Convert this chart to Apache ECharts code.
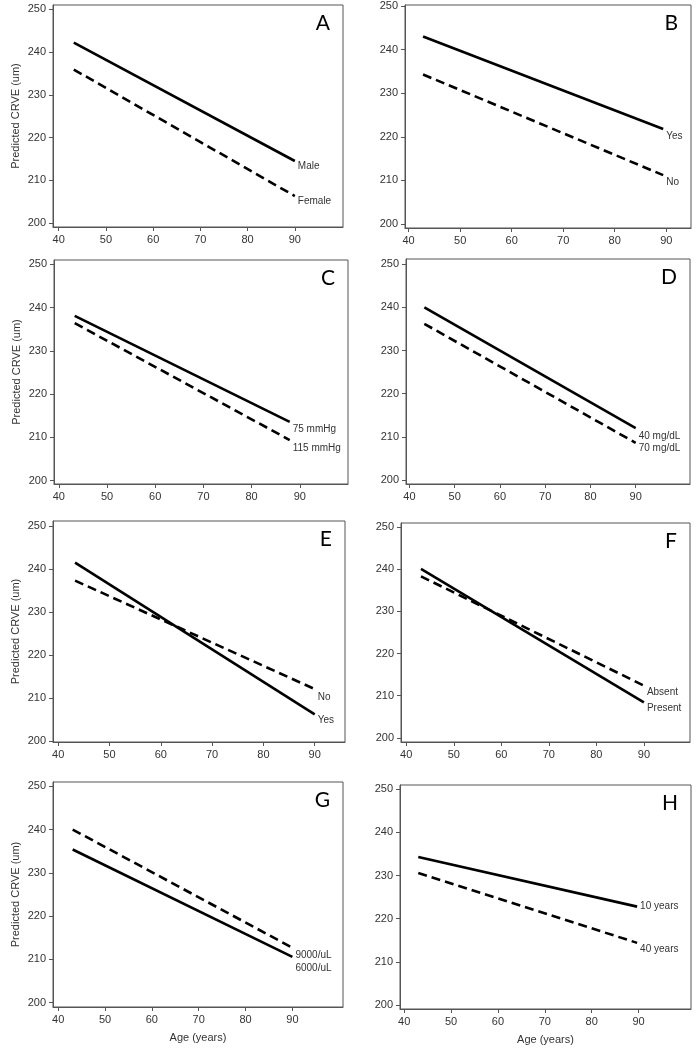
<!DOCTYPE html>
<html>
<head>
<meta charset="utf-8">
<script src="https://cdn.jsdelivr.net/npm/echarts@6/dist/echarts.min.js"></script>
<style>
html,body{margin:0;padding:0;background:#fff;}
#chart{width:698px;height:1050px;}
</style>
</head>
<body>
<div id="chart"></div>
<script>
// ---- data ----
const panelLetters = ['A', 'B', 'C', 'D', 'E', 'F', 'G', 'H'];
const xTickValues = [40, 50, 60, 70, 80, 90];
const yTickValues = [200, 210, 220, 230, 240, 250];
const yAxisTitle = 'Predicted CRVE (um)';
const xAxisTitle = 'Age (years)';

// Panel A: sex
const agesA = [43.2, 90];
const maleA = [242.2, 214.5];
const femaleA = [235.9, 206.3];
// Panel B
const agesB = [42.8, 89.4];
const yesB = [243.0, 221.8];
const noB = [234.3, 211.2];
// Panel C: blood pressure
const agesC = [43.3, 87.9];
const mmHg75C = [238.1, 213.6];
const mmHg115C = [236.4, 209.4];
// Panel D: HDL
const agesD = [43.3, 90];
const mgdl40D = [240.0, 212.0];
const mgdl70D = [236.2, 208.6];
// Panel E
const agesE = [43.3, 90];
const yesE = [241.5, 206.2];
const noE = [237.3, 212.1];
// Panel F
const agesF = [43.1, 90];
const presentF = [240.1, 208.4];
const absentF = [238.3, 212.4];
// Panel G: white cell count
const agesG = [43.1, 90];
const wbc6000G = [235.4, 210.6];
const wbc9000G = [240.0, 212.7];
// Panel H
const agesH = [43.0, 89.7];
const yrs10H = [234.3, 222.8];
const yrs40H = [230.6, 214.4];

const panelSeries = [
  [{name: 'Male', ages: agesA, vals: maleA, dash: false}, {name: 'Female', ages: agesA, vals: femaleA, dash: true}],
  [{name: 'Yes', ages: agesB, vals: yesB, dash: false}, {name: 'No', ages: agesB, vals: noB, dash: true}],
  [{name: '75 mmHg', ages: agesC, vals: mmHg75C, dash: false}, {name: '115 mmHg', ages: agesC, vals: mmHg115C, dash: true}],
  [{name: '40 mg/dL', ages: agesD, vals: mgdl40D, dash: false}, {name: '70 mg/dL', ages: agesD, vals: mgdl70D, dash: true}],
  [{name: 'Yes', ages: agesE, vals: yesE, dash: false}, {name: 'No', ages: agesE, vals: noE, dash: true}],
  [{name: 'Present', ages: agesF, vals: presentF, dash: false}, {name: 'Absent', ages: agesF, vals: absentF, dash: true}],
  [{name: '6000/uL', ages: agesG, vals: wbc6000G, dash: false}, {name: '9000/uL', ages: agesG, vals: wbc9000G, dash: true}],
  [{name: '10 years', ages: agesH, vals: yrs10H, dash: false}, {name: '40 years', ages: agesH, vals: yrs40H, dash: true}]
];

// ---- layout (pixel boxes and axis extents) ----
const boxes = [
  {l: 53, t: 5, r: 343, b: 227, xmin: 38.8, xmax: 100.2, ymin: 199.06, ymax: 251.0},
  {l: 405, t: 5, r: 691, b: 228, xmin: 39.3, xmax: 94.8, ymin: 199.08, ymax: 250.23},
  {l: 54, t: 260, r: 348, b: 484, xmin: 39.0, xmax: 100.0, ymin: 199.24, ymax: 250.99},
  {l: 406, t: 259, r: 690, b: 484, xmin: 39.25, xmax: 102.0, ymin: 199.07, ymax: 251.23},
  {l: 53, t: 521, r: 345, b: 742, xmin: 39.0, xmax: 95.9, ymin: 199.8, ymax: 251.16},
  {l: 401, t: 523, r: 690, b: 742, xmin: 38.9, xmax: 99.7, ymin: 199.03, ymax: 250.95},
  {l: 53, t: 782, r: 343, b: 1007, xmin: 38.9, xmax: 100.8, ymin: 199.0, ymax: 250.99},
  {l: 400, t: 785, r: 691, b: 1009, xmin: 39.1, xmax: 101.2, ymin: 199.07, ymax: 251.0}
];
// end-label vertical offsets [solid, dashed]
const labelDy = [[5, 5], [7, 7], [7, 8], [8, 5], [6, 8], [6, 7], [11, 8], [0, 6]];

const FONT = '"Liberation Sans", Arial, sans-serif';
const AXIS_COLOR = '#555';
const TEXT_COLOR = '#333';

const grids = [], xAxes = [], yAxes = [], series = [], graphics = [];
boxes.forEach((b, i) => {
  const isLeft = i % 2 === 0;
  const isBottom = i >= 6;
  grids.push({
    left: b.l, top: b.t, width: b.r - b.l, height: b.b - b.t,
    show: true, borderColor: AXIS_COLOR, borderWidth: 1, backgroundColor: 'transparent',
    containLabel: false, outerBoundsMode: 'none'
  });
  xAxes.push({
    type: 'value', gridIndex: i, min: b.xmin, max: b.xmax,
    axisLine: {show: true, onZero: false, lineStyle: {color: AXIS_COLOR, width: 1}},
    axisTick: {show: true, length: 4, customValues: xTickValues, lineStyle: {color: AXIS_COLOR}},
    axisLabel: {customValues: xTickValues, fontSize: 11, color: TEXT_COLOR, fontFamily: FONT, margin: 7},
    splitLine: {show: false},
    name: isBottom ? xAxisTitle : '',
    nameLocation: 'middle', nameGap: 25,
    nameTextStyle: {fontSize: 11, color: TEXT_COLOR, fontFamily: FONT}
  });
  yAxes.push({
    type: 'value', gridIndex: i, min: b.ymin, max: b.ymax,
    axisLine: {show: true, onZero: false, lineStyle: {color: AXIS_COLOR, width: 1}},
    axisTick: {show: true, length: 4, customValues: yTickValues, lineStyle: {color: AXIS_COLOR}},
    axisLabel: {customValues: yTickValues, fontSize: 11, color: TEXT_COLOR, fontFamily: FONT, margin: 7},
    splitLine: {show: false},
    name: isLeft ? yAxisTitle : '',
    nameLocation: 'middle', nameGap: 32,
    nameTextStyle: {fontSize: 11, color: TEXT_COLOR, fontFamily: FONT}
  });
  panelSeries[i].forEach((s, k) => {
    series.push({
      type: 'line', name: s.name, xAxisIndex: i, yAxisIndex: i,
      data: s.ages.map((a, j) => [a, s.vals[j]]),
      symbol: 'none', silent: true,
      lineStyle: {color: '#000', width: 2.6, type: s.dash ? [9, 5] : 'solid', cap: 'butt'},
      endLabel: {
        show: true, formatter: s.name, distance: 3, offset: [0, labelDy[i][k]],
        fontSize: 10, color: TEXT_COLOR, fontFamily: FONT
      }
    });
  });
  graphics.push({
    type: 'text', x: b.r - 13, y: b.t + 8,
    style: {text: panelLetters[i], fill: '#000', font: '21px Lato, "Open Sans", sans-serif', textAlign: 'right', textVerticalAlign: 'top'}
  });
});

const chart = echarts.init(document.getElementById('chart'), null, {renderer: 'canvas'});
chart.setOption({
  backgroundColor: '#fff',
  animation: false,
  grid: grids,
  xAxis: xAxes,
  yAxis: yAxes,
  series: series,
  graphic: graphics
});
</script>
</body>
</html>
